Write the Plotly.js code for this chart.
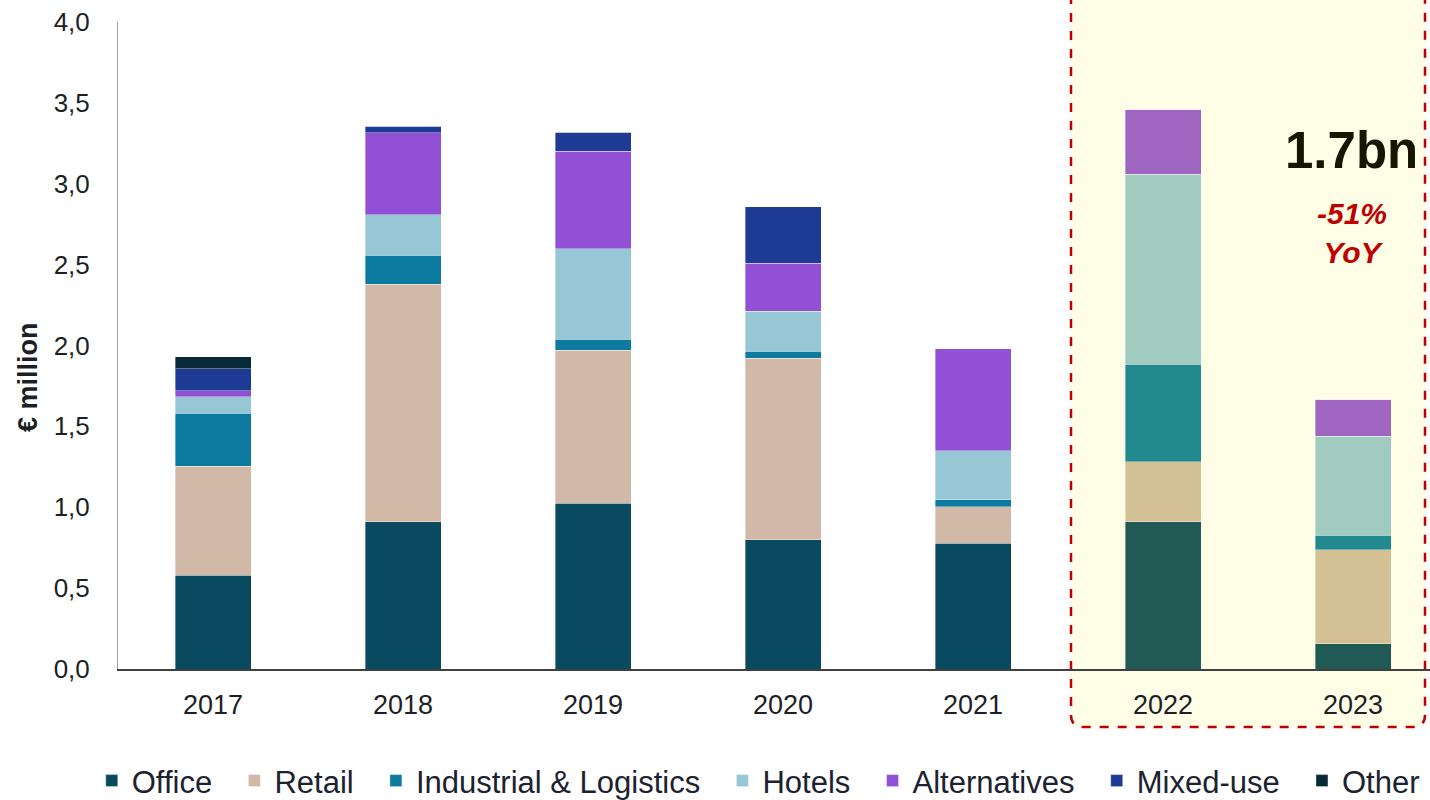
<!DOCTYPE html>
<html>
<head>
<meta charset="utf-8">
<script src="https://cdn.plot.ly/plotly-3.0.1.min.js"></script>
<style>html,body{margin:0;padding:0;background:#fff;}#chart{width:1430px;height:800px;}</style>
</head>
<body>
<div id="chart"></div>
<script>
const years = ["2017","2018","2019","2020","2021","2022","2023"];
const seriesNames = ["Office","Retail","Industrial & Logistics","Hotels","Alternatives","Mixed-use","Other"];
const office       = [0.581, 0.909, 1.026, 0.798, 0.779, 0.911, 0.155];
const retail       = [0.674, 1.471, 0.946, 1.123, 0.223, 0.369, 0.583];
const industrial   = [0.326, 0.179, 0.068, 0.043, 0.043, 0.604, 0.090];
const hotels       = [0.103, 0.248, 0.559, 0.247, 0.303, 1.176, 0.611];
const alternatives = [0.035, 0.507, 0.603, 0.299, 0.631, 0.400, 0.228];
const mixedUse     = [0.136, 0.043, 0.116, 0.348, 0, 0, 0];
const other        = [0.074, 0, 0, 0, 0, 0, 0];
const yTickVals = [0,0.5,1,1.5,2,2.5,3,3.5,4];

const baseColors = ["#0A4A60","#D2B8A7","#0D7AA0","#97C6D5","#9250D6","#1D3A95","#082A38"];
const hlColors   = ["#215A55","#D4C095","#22898F","#A1CBBE","#A064C1","#1D3A95","#082A38"];
const hlYears = ["2022","2023"];

const values = [office, retail, industrial, hotels, alternatives, mixedUse, other];
const traces = values.map((v, i) => ({
  type: "bar",
  name: seriesNames[i] + (i < seriesNames.length - 1 ? "\u00a0\u00a0" : ""),
  x: years,
  y: v,
  width: 0.4,
  marker: {
    color: years.map(y => hlYears.includes(y) ? hlColors[i] : baseColors[i]),
    line: {width: 0.6, color: "rgba(255,255,255,0.6)"}
  },
  hoverinfo: "name+y"
}));

const px = p => (p - 118) / 1312;
const py = p => (669 - p) / 647;
const L = px(1071), R = px(1425), T = py(-5), B = py(727);
const rx = 12/1312, ry = 12/647;
const path = `M ${L} ${T} L ${L} ${B+ry} Q ${L} ${B} ${L+rx} ${B} L ${R-rx} ${B} Q ${R} ${B} ${R} ${B+ry} L ${R} ${T}`;

const layout = {
  width: 1430, height: 800,
  margin: {l: 118, r: 0, t: 22, b: 131, autoexpand: false},
  paper_bgcolor: "#ffffff",
  plot_bgcolor: "rgba(0,0,0,0)",
  barmode: "stack",
  separators: ",.",
  font: {family: "Liberation Sans, Arial, sans-serif", color: "#1c1f26"},
  xaxis: {
    type: "category",
    range: [-0.5, 6.405],
    showgrid: false, zeroline: false,
    showline: true, linecolor: "#404040", linewidth: 1.5,
    ticks: "", tickfont: {size: 27, color: "#1c1f26"},
    ticklabelstandoff: 11
  },
  yaxis: {
    range: [0, 4.0],
    tickvals: yTickVals,
    tickformat: ".1f",
    showgrid: false, zeroline: false,
    showline: true, linecolor: "#a0a0a0", linewidth: 1,
    ticks: "", tickfont: {size: 26, color: "#1c1f26"},
    ticklabelstandoff: 22
  },
  showlegend: true,
  legend: {
    orientation: "h",
    x: -0.02, xanchor: "left",
    y: -0.173, yanchor: "middle",
    font: {size: 31, color: "#1c2230"},
    traceorder: "normal",
    itemwidth: 30,
    bgcolor: "rgba(0,0,0,0)"
  },
  shapes: [
    {type: "path", xref: "paper", yref: "paper", path: path,
     fillcolor: "#FEFEE6", line: {color: "#C00000", width: 2.5, dash: "dash"}, layer: "below"}
  ],
  annotations: [
    {xref: "paper", yref: "paper", x: px(28), y: py(377), text: "<b>€ million</b>", showarrow: false,
     textangle: -90, font: {size: 27, color: "#1c1f26"}, xanchor: "center", yanchor: "middle"},
    {xref: "paper", yref: "paper", x: px(1351), y: py(150), text: "<b>1.7bn</b>", showarrow: false,
     font: {size: 51, color: "#161600"}, xanchor: "center", yanchor: "middle"},
    {xref: "paper", yref: "paper", x: px(1352), y: py(233), text: "<b><i>-51%<br>YoY</i></b>", showarrow: false,
     font: {size: 30, color: "#C00000"}, xanchor: "center", yanchor: "middle"}
  ]
};

Plotly.newPlot("chart", traces, layout, {displayModeBar: false, staticPlot: true});
</script>
</body>
</html>
